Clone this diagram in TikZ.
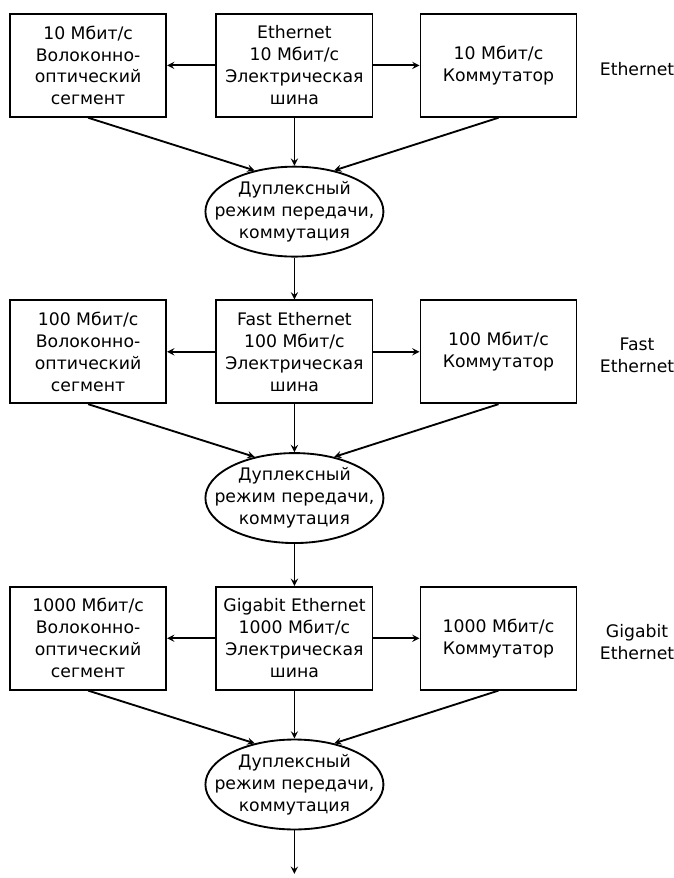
\documentclass[tikz,border=0pt]{standalone}
\usepackage{fontspec}
\setmainfont{DejaVu Sans}
\usetikzlibrary{positioning,shapes.geometric}

\begin{document}
\begin{tikzpicture}[
    line width=1.4pt,
    box/.style={rectangle, draw, minimum width=4.13cm, minimum height=2.72cm, inner sep=1pt, align=center, font=\fontsize{13}{16.5}\selectfont},
    oval/.style={ellipse, draw, minimum width=4.71cm, minimum height=2.38cm, inner xsep=-0.45cm, inner ysep=-0.03cm, align=center, font=\fontsize{13}{16.5}\selectfont},
    tag/.style={align=center, font=\fontsize{13}{16.5}\selectfont},
    arrow/.style={->, >=stealth}
]
    \useasboundingbox (0,0) rectangle (17.83,-23.23);

    % 10 Mbit/s
    \node[box] (bus1) at (7.79,-1.73) {Ethernet\\10 Мбит/с\\Электрическая\\шина};
    \node[box, left=1.28cm of bus1] (fiber1) {10 Мбит/с\\Волоконно-\\оптический\\сегмент};
    \node[box, right=1.22cm of bus1] (switch1) {10 Мбит/с\\Коммутатор};
    \node[tag, right=0.45cm of switch1, yshift=-0.1cm] (tag1) {Ethernet};
    \node[oval, below=1.27cm of bus1] (duplex1) {Дуплексный\\режим передачи,\\коммутация};

    % 100 Mbit/s
    \node[box, below=1.11cm of duplex1] (bus2) {Fast Ethernet\\100 Мбит/с\\Электрическая\\шина};
    \node[box, left=1.28cm of bus2] (fiber2) {100 Мбит/с\\Волоконно-\\оптический\\сегмент};
    \node[box, right=1.22cm of bus2] (switch2) {100 Мбит/с\\Коммутатор};
    \node[tag, right=0.45cm of switch2, yshift=-0.1cm] (tag2) {Fast\\Ethernet};
    \node[oval, below=1.27cm of bus2] (duplex2) {Дуплексный\\режим передачи,\\коммутация};

    % 1000 Mbit/s
    \node[box, below=1.11cm of duplex2] (bus3) {Gigabit Ethernet\\1000 Мбит/с\\Электрическая\\шина};
    \node[box, left=1.28cm of bus3] (fiber3) {1000 Мбит/с\\Волоконно-\\оптический\\сегмент};
    \node[box, right=1.22cm of bus3] (switch3) {1000 Мбит/с\\Коммутатор};
    \node[tag, right=0.45cm of switch3, yshift=-0.1cm] (tag3) {Gigabit\\Ethernet};
    \node[oval, below=1.27cm of bus3] (duplex3) {Дуплексный\\режим передачи,\\коммутация};
    \coordinate[below=1.15cm of duplex3.south] (out);

    \foreach \i in {1,2,3} {
        \draw[arrow] (bus\i.west) -- (fiber\i.east);
        \draw[arrow] (bus\i.east) -- (switch\i.west);
        \draw[arrow] (bus\i.south) -- (duplex\i.north);
        \draw[arrow] (fiber\i.south) -- (duplex\i.134);
        \draw[arrow] (switch\i.south) -- (duplex\i.46);
    }
    \draw[arrow] (duplex1.south) -- (bus2.north);
    \draw[arrow] (duplex2.south) -- (bus3.north);
    \draw[arrow] (duplex3.south) -- (out);
\end{tikzpicture}
\end{document}
